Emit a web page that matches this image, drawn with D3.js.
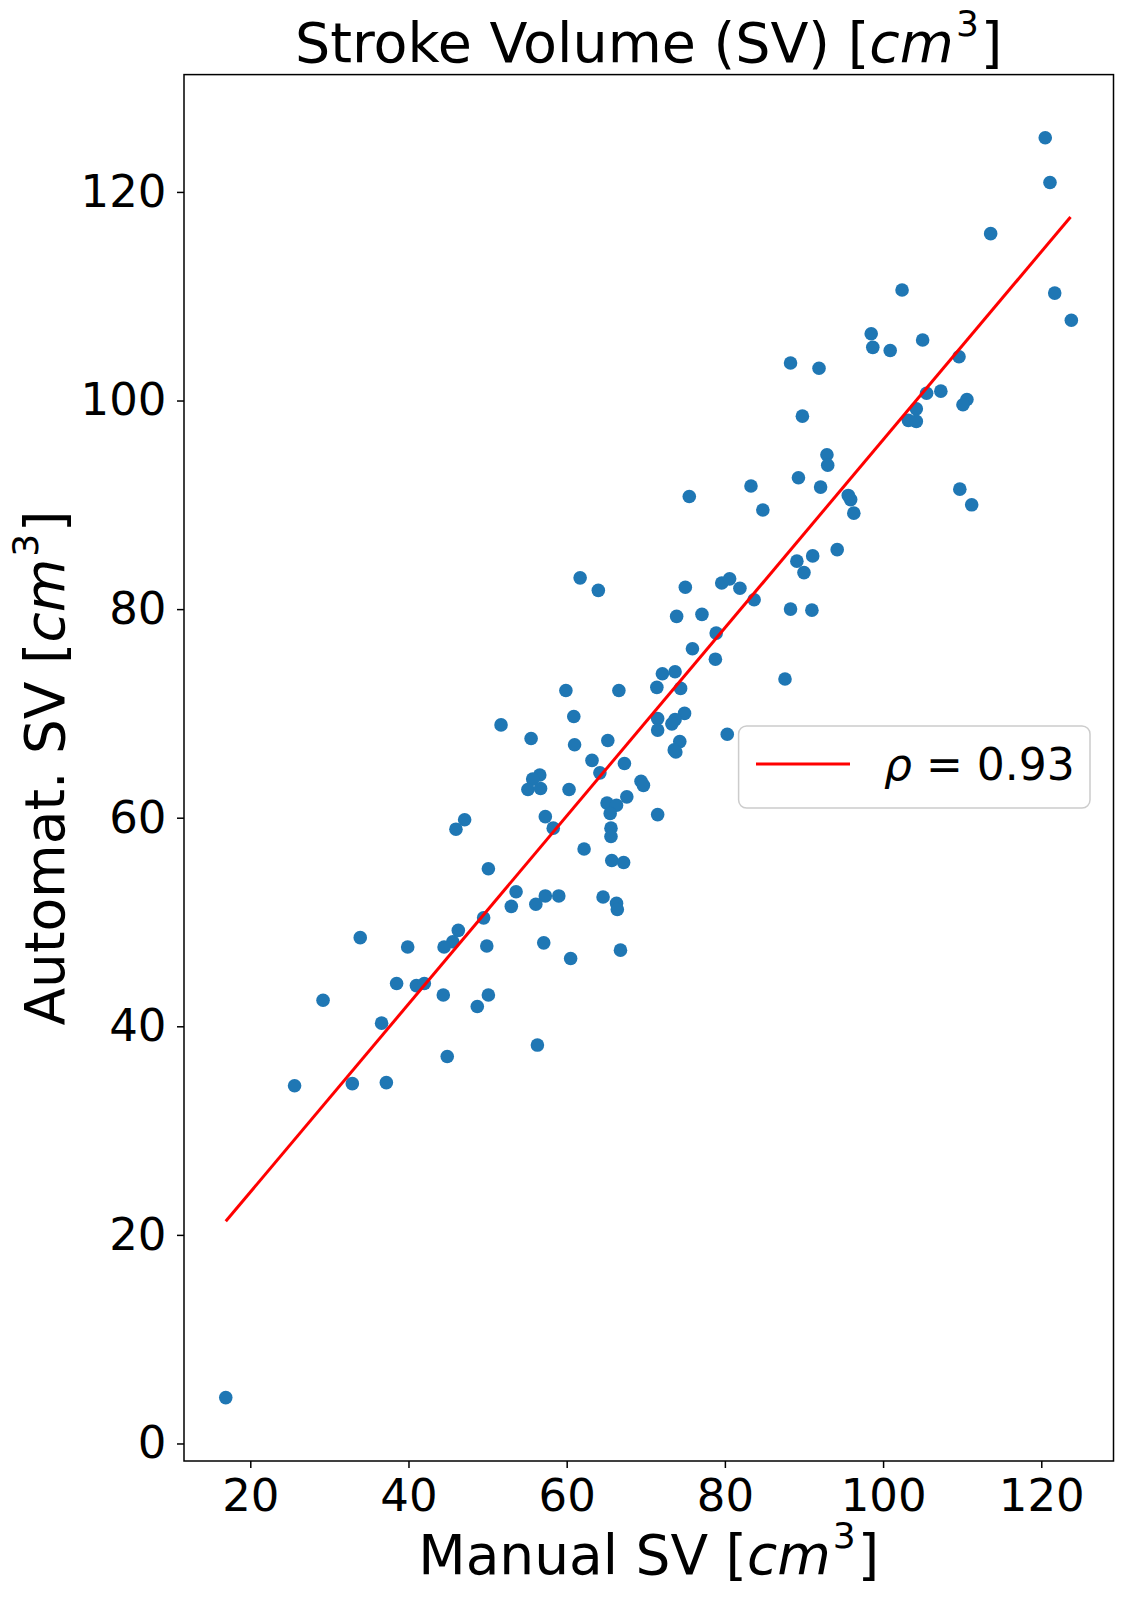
<!DOCTYPE html>
<html>
<head>
<meta charset="utf-8">
<script src="https://cdn.jsdelivr.net/npm/d3@7"></script>
<style>
body { margin: 0; background: #fff; }
svg { display: block; font-family: "DejaVu Sans", sans-serif; }
</style>
</head>
<body>
<svg width="1137" height="1602"></svg>
<script>
// ручной SV (ось OX)
const manualSV = [120.5, 121.1, 113.6, 102.4, 121.7, 123.8, 98.5, 98.7, 100.9, 105.0,
  88.3, 91.9, 109.6, 89.8, 105.5, 107.3, 110.6, 110.1, 104.2, 103.2,
  104.2, 92.9, 93.0, 89.3, 83.3, 92.1, 95.6, 95.9, 109.7, 111.2,
  75.5, 84.8, 96.3, 94.2, 89.1, 91.1, 90.0, 75.0, 79.6, 80.6,
  81.9, 83.7, 64.0, 73.9, 77.1, 88.3, 91.0, 78.9, 75.9, 78.8,
  87.6, 72.1, 73.7, 71.4, 74.4, 66.6, 71.5, 74.9, 73.7, 73.3,
  71.5, 80.3, 74.3, 73.6, 73.8, 65.2, 67.3, 64.2, 69.4, 69.7,
  67.6, 61.7, 59.9, 60.9, 51.7, 55.5, 61.0, 63.2, 56.6, 55.7,
  55.1, 56.7, 60.3, 65.1, 66.3, 65.5, 71.5, 57.3, 58.3, 47.1,
  46.0, 65.6, 65.6, 50.1, 62.2, 65.7, 67.2, 53.6, 53.0, 57.3,
  56.1, 59.0, 64.6, 66.3, 66.4, 49.5, 46.3, 33.9, 39.9, 45.6,
  44.5, 49.9, 57.1, 66.8, 60.5, 38.5, 41.0, 42.0, 29.2, 44.4,
  50.1, 48.7, 36.6, 56.3, 44.9, 25.6, 32.9, 37.2, 16.9];

// автоматический SV (ось OY)
const autoSV = [125.2, 120.9, 116.0, 110.6, 110.3, 107.7, 106.4, 105.1, 104.8, 105.8,
  103.6, 103.1, 104.2, 98.5, 100.7, 100.9, 100.1, 99.6, 99.2, 98.1,
  98.0, 94.8, 93.8, 92.6, 91.8, 91.7, 90.9, 90.5, 91.5, 90.0,
  90.8, 89.5, 89.2, 85.7, 84.6, 85.1, 83.5, 82.1, 82.5, 82.9,
  82.0, 80.9, 81.8, 79.3, 79.5, 80.0, 79.9, 77.7, 76.2, 75.2,
  73.3, 73.8, 74.0, 72.5, 72.4, 72.2, 69.5, 70.0, 69.4, 69.0,
  68.4, 68.0, 67.3, 66.5, 66.3, 67.4, 65.2, 64.3, 63.5, 63.1,
  62.0, 83.0, 72.2, 69.7, 68.9, 67.6, 67.0, 65.5, 64.1, 63.7,
  62.7, 62.8, 62.7, 61.4, 61.2, 60.4, 60.3, 60.1, 59.0, 59.8,
  58.9, 59.0, 58.2, 55.1, 57.0, 55.9, 55.7, 52.9, 51.5, 52.5,
  51.7, 52.5, 52.4, 51.8, 51.2, 50.4, 49.2, 48.5, 47.6, 48.1,
  47.6, 47.7, 48.0, 47.3, 46.5, 44.1, 43.9, 44.1, 42.5, 43.0,
  43.0, 41.9, 40.3, 38.2, 37.1, 34.3, 34.5, 34.6, 4.4];

const xTicks = [20, 40, 60, 80, 100, 120];
const yTicks = [0, 20, 40, 60, 80, 100, 120];

// линия регрессии (концы)
const fitX = [16.9, 123.7];
const fitY = [21.3, 117.6];
const rhoValue = "0.93";

const blue = "#1f77b4";

function drawChart() {
    let svg = d3.select("svg");

    const area = { left: 184, right: 1113.5, top: 74.6, bottom: 1461 };

    let scX = d3.scaleLinear()
        .domain([11.62, 129.13])
        .range([area.left, area.right]);
    let scY = d3.scaleLinear()
        .domain([-1.68, 131.25])
        .range([area.bottom, area.top]);

    // оси
    let axX = svg.append("g")
        .attr("transform", `translate(0, ${area.bottom})`)
        .call(d3.axisBottom(scX).tickValues(xTicks).tickSize(7).tickPadding(11).tickSizeOuter(0));
    let axY = svg.append("g")
        .attr("transform", `translate(${area.left}, 0)`)
        .call(d3.axisLeft(scY).tickValues(yTicks).tickSize(7).tickPadding(10.5).tickSizeOuter(0));

    [axX, axY].forEach(ax => {
        ax.select(".domain").remove();
        ax.selectAll(".tick line").attr("stroke", "#000").attr("stroke-width", 1.5);
        ax.selectAll(".tick text")
            .attr("fill", "#000")
            .style("font-family", "DejaVu Sans")
            .style("font-size", "45px");
    });

    // точки
    const points = d3.zip(manualSV, autoSV);
    svg.append("g")
        .selectAll("circle")
        .data(points)
        .enter()
        .append("circle")
        .attr("cx", d => scX(d[0]))
        .attr("cy", d => scY(d[1]))
        .attr("r", 6.8)
        .style("fill", blue);

    // линия
    svg.append("path")
        .datum(d3.zip(fitX, fitY))
        .attr("d", d3.line().x(d => scX(d[0])).y(d => scY(d[1])))
        .attr("fill", "none")
        .attr("stroke", "red")
        .attr("stroke-width", 3);

    // рамка
    svg.append("rect")
        .attr("x", area.left)
        .attr("y", area.top)
        .attr("width", area.right - area.left)
        .attr("height", area.bottom - area.top)
        .attr("fill", "none")
        .attr("stroke", "#000")
        .attr("stroke-width", 1.5);

    // легенда
    let leg = svg.append("g");
    leg.append("rect")
        .attr("x", 738.6).attr("y", 726)
        .attr("width", 351.4).attr("height", 82)
        .attr("rx", 8)
        .attr("fill", "#fff").attr("fill-opacity", 0.8)
        .attr("stroke", "#cccccc").attr("stroke-width", 1.5);
    leg.append("line")
        .attr("x1", 756).attr("x2", 850)
        .attr("y1", 764).attr("y2", 764)
        .attr("stroke", "red").attr("stroke-width", 3);
    let legText = leg.append("text")
        .attr("x", 884).attr("y", 780)
        .style("font-size", "44px");
    legText.append("tspan").style("font-style", "italic").text("ρ");
    legText.append("tspan").text(" = " + rhoValue);

    // заголовок и подписи осей
    addUnitText(svg, "Stroke Volume (SV) [", 648.7, 62, 0, 55.5);
    addUnitText(svg, "Manual SV [", 648.7, 1574, 0, 55);
    addUnitText(svg, "Automat. SV [", 64.4, 768, -90, 55);
}

function addUnitText(svg, prefix, x, y, angle, size) {
    let t = svg.append("text")
        .attr("text-anchor", "middle")
        .attr("transform", `translate(${x}, ${y}) rotate(${angle})`)
        .style("font-size", size + "px")
        .attr("fill", "#000");
    t.append("tspan").text(prefix);
    t.append("tspan").style("font-style", "italic").text("cm");
    t.append("tspan").attr("dy", -26).attr("dx", 2).style("font-size", "36px").text("3");
    t.append("tspan").attr("dy", 26).attr("dx", 2).text("]");
}

drawChart();
</script>
</body>
</html>
